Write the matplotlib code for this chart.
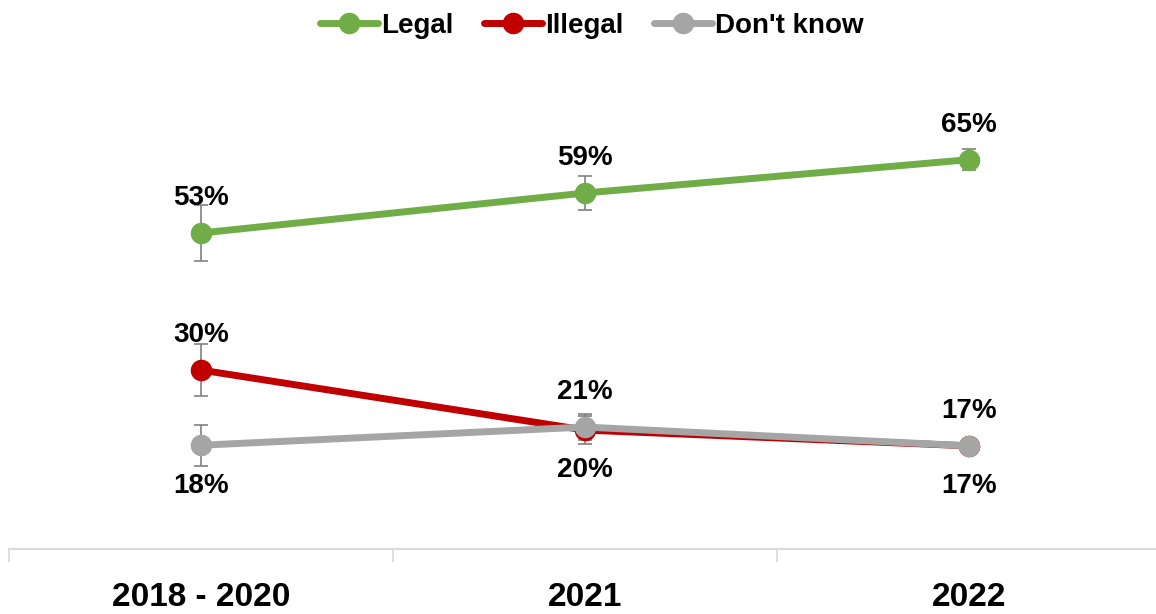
import numpy as np
import matplotlib.pyplot as plt

plt.rcParams['font.family'] = ['Liberation Sans', 'DejaVu Sans']

# data
periods = ['2018 - 2020', '2021', '2022']
legal = [52.6, 59.2, 64.7]
illegal = [30.0, 20.1, 17.5]
dont_know = [17.6, 20.6, 17.5]
legal_err = [4.6, 2.8, 1.7]
illegal_err = [4.3, 2.3, 1.0]
dont_know_err = [3.4, 2.2, 1.0]
legal_lbl = ['53%', '59%', '65%']
illegal_lbl = ['30%', '20%', '17%']
dont_know_lbl = ['18%', '21%', '17%']

series = [
    ('Legal', legal, legal_err, legal_lbl, '#70ad47', [1, 1, 1]),
    ('Illegal', illegal, illegal_err, illegal_lbl, '#c00000', [1, -1, 1]),
    ("Don't know", dont_know, dont_know_err, dont_know_lbl, '#a5a5a5', [-1, 1, -1]),
]

fig = plt.figure(figsize=(11.56, 6.14), dpi=100)
ax = fig.add_axes([0.0078, 0.106, 0.9965, 0.79])
x = np.arange(len(periods))

for i, (name, vals, err, lbls, col, side) in enumerate(series):
    ax.errorbar(x, vals, yerr=err, fmt='none', ecolor='#808080',
                elinewidth=1.2, capsize=5, capthick=1.2, zorder=2)
    ax.plot(x, vals, color=col, lw=5, marker='o', ms=14.5,
            label=name, zorder=3 + i, solid_capstyle='round')
    for xi, v, t, s in zip(x, vals, lbls, side):
        off = 25 if s > 0 else -29
        ax.annotate(t, (xi, v), xytext=(0, off), textcoords='offset points',
                    ha='center', va='center', fontsize=20, fontweight='bold')

ax.set_xlim(-0.5, 2.5)
ax.set_ylim(0.5, 80.5)
ax.set_yticks([])
for s in ['top', 'right', 'left']:
    ax.spines[s].set_visible(False)
ax.spines['bottom'].set_color('#d9d9d9')
ax.spines['bottom'].set_linewidth(1.5)

ax.set_xticks([-0.5, 0.5, 1.5, 2.5])
ax.set_xticklabels([])
ax.tick_params(axis='x', which='major', length=9, width=1.2, color='#d9d9d9')
ax.set_xticks(x, minor=True)
ax.set_xticklabels(periods, minor=True, fontsize=24, fontweight='bold')
ax.tick_params(axis='x', which='minor', length=0, pad=24)

fig.legend(loc='upper center', bbox_to_anchor=(0.512, 1.02), ncol=3,
           frameon=False, handlelength=2.1, handletextpad=0.1,
           columnspacing=1.1, prop={'size': 20, 'weight': 'bold'})

fig.savefig('out.png', dpi=100)
